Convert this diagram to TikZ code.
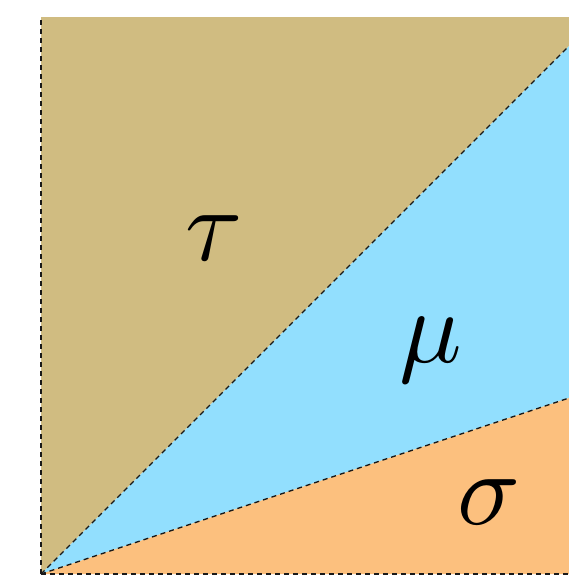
\documentclass[tikz,border=0pt]{standalone}
\usepackage{graphicx}
\definecolor{tanc}{RGB}{208,188,129}
\definecolor{bluec}{RGB}{146,223,254}
\definecolor{orangec}{RGB}{252,192,126}
\tikzset{
  edge/.style={draw=black!90, line width=1.4pt, dash pattern=on 5pt off 4pt},
  lab/.style={anchor=base, inner sep=0pt}
}
\newcommand{\biglab}[1]{\scalebox{10.4}{$#1$}}
\begin{document}
\begin{tikzpicture}[x=1pt,y=-1pt]
\useasboundingbox (0,0) rectangle (569,579);
\coordinate (O) at (41,574);
\coordinate (TL) at (41,17);
\coordinate (TR) at (569,17);
\coordinate (U) at (569,46);
\coordinate (L) at (569,398);
\coordinate (BR) at (569,574);
\fill[tanc] (O) -- (TL) -- (TR) -- (U) -- cycle;
\fill[bluec] (O) -- (U) -- (L) -- cycle;
\fill[orangec] (O) -- (L) -- (BR) -- cycle;
\draw[edge] (O) -- (TL);
\draw[edge] (O) -- (BR);
\draw[edge] (O) -- (U);
\draw[edge] (O) -- (L);
\node[lab] (tau) at (214,260) {\biglab{\tau}};
\node[lab] (mu) at (431,362) {\biglab{\mu}};
\node[lab] (sigma) at (489,524) {\biglab{\sigma}};
\end{tikzpicture}
\end{document}
